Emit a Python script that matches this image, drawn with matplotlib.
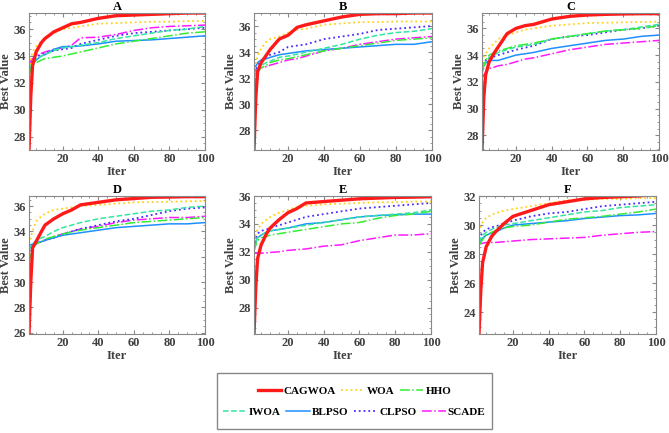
import matplotlib
matplotlib.use('Agg')
import matplotlib.pyplot as plt
from matplotlib.lines import Line2D
from matplotlib.patches import Rectangle
from matplotlib.ticker import MultipleLocator, AutoMinorLocator

plt.rcParams['font.family'] = ['Liberation Serif', 'DejaVu Serif']
plt.rcParams['font.weight'] = 'bold'

iters = [1, 2, 3, 5, 8, 10, 15, 20, 25, 30, 40, 50, 60, 70, 80, 90, 100]
algos = ['CAGWOA', 'WOA', 'HHO', 'IWOA', 'BLPSO', 'CLPSO', 'SCADE']

panel_A = {
    'CAGWOA': [27.0, 31.0, 33.3, 34.3, 35.0, 35.3, 35.8, 36.1, 36.4, 36.5, 36.8, 37.0, 37.05, 37.1, 37.15, 37.2, 37.2],
    'WOA':    [33.0, 33.8, 34.3, 34.7, 35.1, 35.4, 35.7, 36.0, 36.1, 36.2, 36.4, 36.45, 36.5, 36.55, 36.55, 36.6, 36.6],
    'HHO':    [32.5, 33.0, 33.3, 33.5, 33.7, 33.8, 33.9, 34.0, 34.15, 34.3, 34.6, 34.9, 35.1, 35.3, 35.5, 35.7, 35.8],
    'IWOA':   [33.0, 33.3, 33.5, 33.8, 34.0, 34.1, 34.4, 34.6, 34.7, 34.8, 35.0, 35.3, 35.5, 35.7, 35.9, 36.0, 36.2],
    'BLPSO':  [32.8, 33.2, 33.4, 33.7, 34.0, 34.1, 34.5, 34.7, 34.7, 34.75, 34.9, 35.1, 35.15, 35.2, 35.3, 35.4, 35.5],
    'CLPSO':  [33.2, 33.4, 33.6, 33.9, 34.1, 34.2, 34.4, 34.5, 34.6, 34.9, 35.2, 35.5, 35.7, 35.8, 35.9, 36.0, 36.1],
    'SCADE':  [33.4, 33.6, 33.8, 34.0, 34.2, 34.3, 34.5, 34.6, 34.8, 35.35, 35.4, 35.6, 35.9, 36.1, 36.2, 36.25, 36.3],
}
panel_B = {
    'CAGWOA': [26.6, 30.5, 32.5, 33.2, 33.8, 34.2, 35.0, 35.3, 35.9, 36.1, 36.4, 36.7, 36.9, 36.95, 36.95, 37.0, 37.0],
    'WOA':    [32.0, 33.2, 33.7, 34.3, 34.8, 35.0, 35.2, 35.5, 35.7, 35.8, 36.1, 36.2, 36.3, 36.3, 36.35, 36.35, 36.35],
    'HHO':    [31.2, 32.0, 32.5, 32.8, 33.0, 33.2, 33.4, 33.5, 33.65, 33.8, 34.1, 34.3, 34.5, 34.7, 34.9, 35.0, 35.1],
    'IWOA':   [32.0, 32.4, 32.7, 33.0, 33.2, 33.3, 33.6, 33.7, 33.85, 34.0, 34.3, 34.6, 35.0, 35.3, 35.5, 35.6, 35.8],
    'BLPSO':  [32.5, 32.9, 33.2, 33.4, 33.5, 33.6, 33.8, 33.9, 34.0, 34.1, 34.2, 34.3, 34.4, 34.5, 34.6, 34.6, 34.8],
    'CLPSO':  [32.4, 32.7, 33.0, 33.3, 33.6, 33.8, 34.0, 34.4, 34.5, 34.6, 35.0, 35.2, 35.4, 35.7, 35.8, 35.9, 36.0],
    'SCADE':  [32.5, 32.6, 32.7, 32.8, 32.9, 33.0, 33.2, 33.4, 33.5, 33.7, 34.1, 34.3, 34.6, 34.8, 35.0, 35.1, 35.2],
}
panel_C = {
    'CAGWOA': [26.9, 30.8, 32.5, 33.5, 34.2, 34.6, 35.6, 36.0, 36.2, 36.3, 36.7, 36.9, 37.0, 37.05, 37.08, 37.1, 37.1],
    'WOA':    [33.5, 33.9, 34.1, 34.5, 34.9, 35.2, 35.5, 35.7, 35.9, 36.0, 36.2, 36.3, 36.4, 36.42, 36.45, 36.48, 36.5],
    'HHO':    [32.8, 33.2, 33.6, 34.0, 34.2, 34.3, 34.5, 34.7, 34.8, 34.9, 35.2, 35.4, 35.6, 35.8, 35.9, 36.0, 36.2],
    'IWOA':   [32.6, 33.1, 33.5, 33.8, 34.0, 34.2, 34.4, 34.6, 34.7, 34.8, 35.2, 35.4, 35.6, 35.8, 35.9, 36.1, 36.3],
    'BLPSO':  [33.0, 33.2, 33.4, 33.6, 33.6, 33.6, 33.8, 34.0, 34.1, 34.2, 34.5, 34.7, 34.9, 35.1, 35.2, 35.4, 35.5],
    'CLPSO':  [33.3, 33.5, 33.6, 33.8, 33.9, 34.0, 34.2, 34.4, 34.55, 34.7, 35.2, 35.4, 35.5, 35.7, 35.9, 36.0, 36.2],
    'SCADE':  [32.3, 32.5, 32.7, 33.0, 33.1, 33.2, 33.3, 33.5, 33.7, 33.8, 34.1, 34.4, 34.6, 34.8, 34.9, 35.0, 35.1],
}
panel_D = {
    'CAGWOA': [25.9, 30.0, 32.7, 33.2, 34.0, 34.5, 35.0, 35.4, 35.7, 36.1, 36.3, 36.5, 36.6, 36.7, 36.72, 36.75, 36.75],
    'WOA':    [33.0, 33.6, 34.0, 34.8, 35.2, 35.4, 35.7, 35.8, 35.9, 36.0, 36.1, 36.2, 36.3, 36.32, 36.35, 36.38, 36.4],
    'HHO':    [31.5, 32.3, 32.8, 33.0, 33.2, 33.4, 33.6, 33.8, 33.95, 34.1, 34.3, 34.5, 34.7, 34.8, 34.9, 35.0, 35.1],
    'IWOA':   [32.5, 32.8, 33.0, 33.3, 33.5, 33.6, 34.0, 34.3, 34.5, 34.7, 35.0, 35.2, 35.4, 35.6, 35.7, 35.9, 36.0],
    'BLPSO':  [32.9, 32.95, 33.0, 33.1, 33.2, 33.3, 33.5, 33.7, 33.8, 33.9, 34.1, 34.3, 34.4, 34.5, 34.6, 34.6, 34.7],
    'CLPSO':  [32.4, 32.6, 32.8, 33.0, 33.2, 33.3, 33.5, 33.8, 34.0, 34.2, 34.5, 34.8, 35.0, 35.3, 35.6, 35.8, 35.9],
    'SCADE':  [32.6, 32.8, 32.9, 33.1, 33.2, 33.3, 33.6, 33.8, 34.0, 34.2, 34.4, 34.7, 34.9, 35.0, 35.1, 35.1, 35.2],
}
panel_E = {
    'CAGWOA': [26.1, 29.5, 31.5, 32.5, 33.3, 33.7, 34.3, 34.8, 35.1, 35.5, 35.6, 35.7, 35.8, 35.85, 35.9, 35.92, 35.95],
    'WOA':    [32.8, 33.3, 33.6, 34.0, 34.3, 34.5, 34.8, 35.0, 35.2, 35.3, 35.4, 35.45, 35.5, 35.55, 35.55, 35.6, 35.6],
    'HHO':    [32.0, 32.5, 32.8, 33.0, 33.1, 33.2, 33.3, 33.4, 33.5, 33.6, 33.8, 34.0, 34.1, 34.4, 34.6, 34.7, 34.9],
    'IWOA':   [32.2, 32.7, 33.0, 33.2, 33.4, 33.5, 33.6, 33.7, 33.8, 33.9, 34.1, 34.3, 34.5, 34.6, 34.7, 34.8, 35.0],
    'BLPSO':  [32.3, 32.7, 33.0, 33.2, 33.4, 33.5, 33.6, 33.7, 33.85, 34.0, 34.1, 34.3, 34.5, 34.6, 34.65, 34.7, 34.7],
    'CLPSO':  [32.7, 33.0, 33.3, 33.5, 33.6, 33.7, 33.9, 34.1, 34.3, 34.5, 34.7, 34.9, 35.1, 35.2, 35.3, 35.4, 35.5],
    'SCADE':  [31.9, 31.9, 31.9, 31.9, 31.92, 31.95, 32.0, 32.1, 32.15, 32.2, 32.4, 32.5, 32.8, 33.0, 33.2, 33.2, 33.3],
}
panel_F = {
    'CAGWOA': [22.5, 25.5, 27.4, 28.5, 29.2, 29.5, 30.1, 30.6, 30.8, 31.0, 31.4, 31.6, 31.8, 31.9, 31.95, 32.0, 32.1],
    'WOA':    [29.5, 29.9, 30.2, 30.5, 30.7, 30.8, 31.0, 31.1, 31.2, 31.3, 31.5, 31.7, 31.75, 31.8, 31.8, 31.85, 31.85],
    'HHO':    [28.6, 28.8, 29.0, 29.3, 29.5, 29.6, 29.8, 29.9, 29.95, 30.0, 30.2, 30.4, 30.5, 30.6, 30.75, 30.9, 31.1],
    'IWOA':   [28.8, 29.1, 29.3, 29.5, 29.7, 29.8, 30.0, 30.1, 30.2, 30.3, 30.5, 30.7, 30.9, 31.0, 31.2, 31.3, 31.4],
    'BLPSO':  [28.7, 28.9, 29.1, 29.3, 29.45, 29.5, 29.8, 30.0, 30.05, 30.1, 30.2, 30.3, 30.45, 30.55, 30.65, 30.7, 30.8],
    'CLPSO':  [29.0, 29.3, 29.5, 29.7, 29.85, 29.9, 30.1, 30.3, 30.45, 30.6, 30.8, 30.9, 31.1, 31.3, 31.4, 31.5, 31.6],
    'SCADE':  [28.7, 28.72, 28.75, 28.8, 28.8, 28.8, 28.85, 28.9, 28.95, 29.0, 29.05, 29.1, 29.15, 29.3, 29.4, 29.5, 29.55],
}

titles = ['A', 'B', 'C', 'D', 'E', 'F']
panels = [panel_A, panel_B, panel_C, panel_D, panel_E, panel_F]
ylims = [(27.0, 37.2), (26.5, 37.0), (26.9, 37.15), (25.9, 36.8), (26.1, 36.0), (22.5, 32.0)]

styles = {
    'CAGWOA': dict(color='#ff1a1a', ls='-', lw=2.4),
    'WOA':    dict(color='#ffd11a', ls=':', lw=1.3),
    'HHO':    dict(color='#33ee33', ls='-.', lw=1.1),
    'IWOA':   dict(color='#33e6a0', ls='--', lw=1.1),
    'BLPSO':  dict(color='#1f8fff', ls='-', lw=1.1),
    'CLPSO':  dict(color='#4b2bff', ls=':', lw=1.3),
    'SCADE':  dict(color='#ff1aff', ls='-.', lw=1.1),
}

W, H = 669, 433
fig = plt.figure(figsize=(W / 100, H / 100), dpi=100)

# axes boxes in pixels: left, top, right, bottom
boxes = [(29, 13, 205, 150), (254, 13, 432, 150), (482, 13, 659, 150),
         (29, 196, 205, 334), (254, 196, 431, 334), (479, 196, 656, 334)]

gray = '#404040'
for box, title, data, yl in zip(boxes, titles, panels, ylims):
    l, t, r, b = box
    ax = fig.add_axes([l / W, 1 - b / H, (r - l) / W, (b - t) / H])
    for name in algos[::-1]:
        ax.plot(iters, data[name], **styles[name])
    ax.set_xlim(1, 100)
    ax.set_ylim(*yl)
    ax.set_xticks([20, 40, 60, 80, 100])
    ax.xaxis.set_minor_locator(MultipleLocator(5))
    ax.yaxis.set_major_locator(MultipleLocator(2))
    ax.yaxis.set_minor_locator(AutoMinorLocator(4))
    ax.tick_params(which='both', direction='in', top=True, right=True,
                   labelsize=9, colors='#888888', labelcolor=gray, pad=2)
    ax.tick_params(which='major', length=3)
    ax.tick_params(which='minor', length=1.5)
    for s in ax.spines.values():
        s.set_color('#888888')
    for lab in ax.get_xticklabels() + ax.get_yticklabels():
        lab.set_fontweight('bold')
    ax.set_title(title, fontsize=9, fontweight='bold', pad=2)
    ax.set_xlabel('Iter', fontsize=9, fontweight='bold', color=gray, labelpad=1)
    ax.set_ylabel('Best Value', fontsize=9, fontweight='bold', color=gray, labelpad=1)

# legend frame and two rows of entries
fig.patches.append(Rectangle((217 / W, 1 - 429 / H), (492 - 217) / W, (429 - 373) / H,
                             transform=fig.transFigure, fill=False,
                             edgecolor='#888888', lw=1.0))

def handles(names):
    return [Line2D([], [], **styles[n]) for n in names]

row1 = algos[:3]
row2 = algos[3:]
fig.legend(handles(row1), row1, loc='center', bbox_to_anchor=(354.5 / W, 1 - 391 / H),
           ncol=3, frameon=False, prop=dict(weight='bold', size=8),
           handlelength=2.1, columnspacing=0.5, handletextpad=0.2)
fig.legend(handles(row2), row2, loc='center', bbox_to_anchor=(354.5 / W, 1 - 412 / H),
           ncol=4, frameon=False, prop=dict(weight='bold', size=8),
           handlelength=2.1, columnspacing=0.5, handletextpad=0.2)

fig.savefig('out.png', dpi=100)
